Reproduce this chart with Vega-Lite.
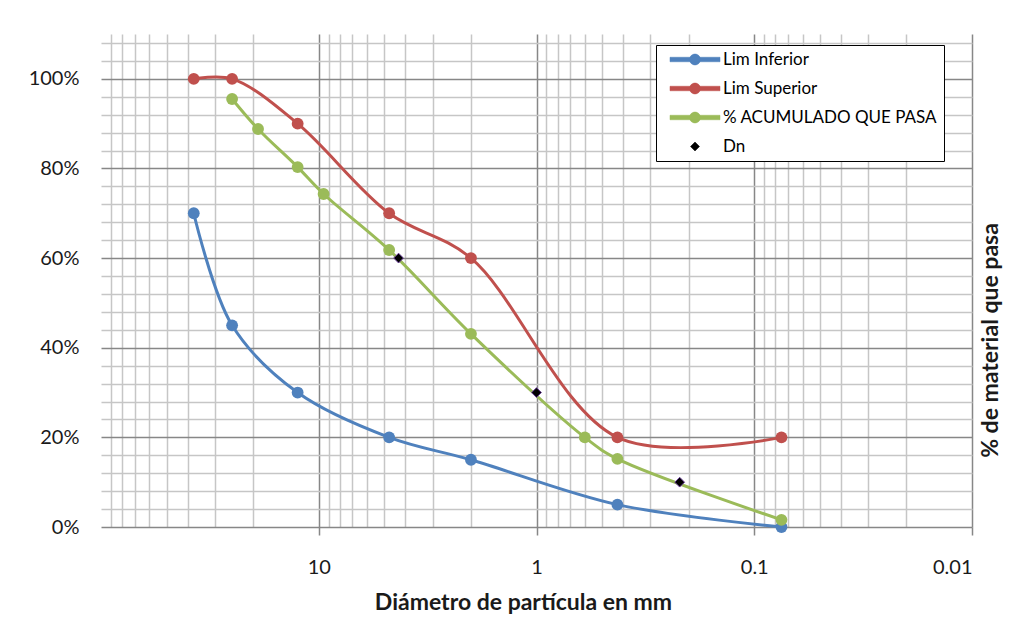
{
  "$schema": "https://vega.github.io/schema/vega-lite/v6.json",
  "width": 871,
  "height": 493,
  "autosize": "none",
  "padding": {"left": 101, "top": 34, "right": 43, "bottom": 108},
  "background": "white",
  "config": {
    "view": {"stroke": null},
    "font": "Lato",
    "axis": {"labelFont": "Lato", "titleFont": "Lato", "labelColor": "#1a1a1a", "titleColor": "#1a1a1a"}
  },
  "data": {
    "values": [
      {"serie": "Lim Inferior", "d": 37.5, "p": 0.70},
      {"serie": "Lim Inferior", "d": 25, "p": 0.45},
      {"serie": "Lim Inferior", "d": 12.5, "p": 0.30},
      {"serie": "Lim Inferior", "d": 4.75, "p": 0.20},
      {"serie": "Lim Inferior", "d": 2, "p": 0.15},
      {"serie": "Lim Inferior", "d": 0.425, "p": 0.05},
      {"serie": "Lim Inferior", "d": 0.075, "p": 0.0},
      {"serie": "Lim Superior", "d": 37.5, "p": 1.0},
      {"serie": "Lim Superior", "d": 25, "p": 1.0},
      {"serie": "Lim Superior", "d": 12.5, "p": 0.90},
      {"serie": "Lim Superior", "d": 4.75, "p": 0.70},
      {"serie": "Lim Superior", "d": 2, "p": 0.60},
      {"serie": "Lim Superior", "d": 0.425, "p": 0.20},
      {"serie": "Lim Superior", "d": 0.075, "p": 0.20},
      {"serie": "% ACUMULADO QUE PASA", "d": 25, "p": 0.955},
      {"serie": "% ACUMULADO QUE PASA", "d": 19, "p": 0.888},
      {"serie": "% ACUMULADO QUE PASA", "d": 12.5, "p": 0.803},
      {"serie": "% ACUMULADO QUE PASA", "d": 9.5, "p": 0.743},
      {"serie": "% ACUMULADO QUE PASA", "d": 4.75, "p": 0.618},
      {"serie": "% ACUMULADO QUE PASA", "d": 2, "p": 0.431},
      {"serie": "% ACUMULADO QUE PASA", "d": 0.6, "p": 0.200},
      {"serie": "% ACUMULADO QUE PASA", "d": 0.425, "p": 0.152},
      {"serie": "% ACUMULADO QUE PASA", "d": 0.075, "p": 0.016},
      {"serie": "Dn", "d": 4.3, "p": 0.60},
      {"serie": "Dn", "d": 1.0, "p": 0.30},
      {"serie": "Dn", "d": 0.22, "p": 0.10}
    ]
  },
  "resolve": {"axis": {"x": "independent", "y": "independent"}},
  "layer": [
    {
      "transform": [{"filter": "datum.serie !== 'Dn'"}],
      "mark": {"type": "line", "interpolate": "catmull-rom", "strokeWidth": 3},
      "encoding": {
        "x": {
          "field": "d", "type": "quantitative",
          "scale": {"type": "log", "domain": [0.01, 100], "reverse": true, "nice": false},
          "axis": {
            "orient": "top",
            "values": [90, 80, 70, 60, 50, 40, 30, 20, 9, 8, 7, 6, 5, 4, 3, 2, 0.9, 0.8, 0.7, 0.6, 0.5, 0.4, 0.3, 0.2, 0.09, 0.08, 0.07, 0.06, 0.05, 0.04, 0.03, 0.02],
            "labels": false, "ticks": false, "domain": false,
            "grid": true, "gridColor": "#c6c6c6", "gridWidth": 1.5, "title": null
          }
        },
        "y": {
          "field": "p", "type": "quantitative",
          "scale": {"domain": [0, 1.1], "nice": false},
          "axis": {
            "orient": "right",
            "values": [0.04, 0.08, 0.12, 0.16, 0.24, 0.28, 0.32, 0.36, 0.44, 0.48, 0.52, 0.56, 0.64, 0.68, 0.72, 0.76, 0.84, 0.88, 0.92, 0.96, 1.04, 1.08],
            "labels": false, "ticks": false, "domain": false,
            "grid": true, "gridColor": "#c6c6c6", "gridWidth": 1.5,
            "title": "% de material que pasa",
            "titleFontSize": 23, "titleFontWeight": "bold",
            "titleAngle": 270, "titleAlign": "center", "titleBaseline": "middle",
            "titleX": 18, "titleY": 306
          }
        },
        "color": {
          "field": "serie", "type": "nominal",
          "scale": {
            "domain": ["Lim Inferior", "Lim Superior", "% ACUMULADO QUE PASA", "Dn"],
            "range": ["#4F81BD", "#C0504D", "#9BBB59", "#000000"]
          },
          "legend": {
            "title": null,
            "orient": "none",
            "legendX": 555,
            "legendY": 11,
            "padding": 6,
            "strokeColor": "#000000",
            "fillColor": "#ffffff",
            "labelFont": "Lato",
            "labelFontSize": 17,
            "labelColor": "#000000",
            "labelOffset": 44,
            "labelLimit": 400,
            "rowPadding": 11,
            "symbolSize": 100,
            "symbolStrokeWidth": 0.5,
            "encode": {
              "symbols": {
                "update": {
                  "shape": {"signal": "datum.value === 'Dn' ? 'M4.9,-0.9L5.8,0L4.9,0.9L4,0Z' : 'M-0.1,-0.45H9.9V0.45H-0.1ZM3.8,0A1.1,1.1 0 1,1 6,0A1.1,1.1 0 1,1 3.8,0'"},
                  "size": {"value": 100},
                  "fill": {"signal": "scale('color', datum.value)"},
                  "stroke": {"signal": "datum.value === 'Dn' ? '#6a3d9a' : scale('color', datum.value)"},
                  "strokeWidth": {"value": 0.5},
                  "opacity": {"value": 1},
                  "fillOpacity": {"value": 1},
                  "strokeOpacity": {"value": 1}
                }
              }
            }
          }
        }
      }
    },
    {
      "transform": [{"filter": "datum.serie !== 'Dn'"}],
      "mark": {"type": "point", "shape": "circle", "filled": true, "size": 140, "opacity": 1},
      "encoding": {
        "x": {
          "field": "d", "type": "quantitative",
          "axis": {
            "orient": "bottom",
            "values": [10, 1, 0.1, 0.01],
            "format": "~g",
            "grid": true, "gridColor": "#878787", "gridWidth": 1.5,
            "ticks": true, "tickSize": 8, "tickColor": "#878787", "tickWidth": 1.5,
            "domain": false,
            "labelFontSize": 20, "labelPadding": 22,
            "title": "Diámetro de partícula en mm",
            "titleFontSize": 23, "titleFontWeight": "bold",
            "titleAlign": "center", "titleBaseline": "alphabetic",
            "titleX": 422, "titleY": 82
          }
        },
        "y": {
          "field": "p", "type": "quantitative",
          "axis": {
            "orient": "left",
            "values": [0, 0.2, 0.4, 0.6, 0.8, 1.0],
            "format": ".0%",
            "grid": true, "gridColor": "#878787", "gridWidth": 1.5,
            "ticks": false, "tickSize": 0, "domain": false,
            "labelFontSize": 20, "labelPadding": 22,
            "title": null
          }
        },
        "color": {"field": "serie", "type": "nominal"}
      }
    },
    {
      "transform": [{"filter": "datum.serie === 'Dn'"}],
      "mark": {"type": "point", "shape": "diamond", "filled": true, "size": 95, "stroke": "#6a3d9a", "strokeWidth": 1, "opacity": 1},
      "encoding": {
        "x": {"field": "d", "type": "quantitative", "axis": null},
        "y": {"field": "p", "type": "quantitative", "axis": null},
        "color": {"field": "serie", "type": "nominal"}
      }
    }
  ]
}
